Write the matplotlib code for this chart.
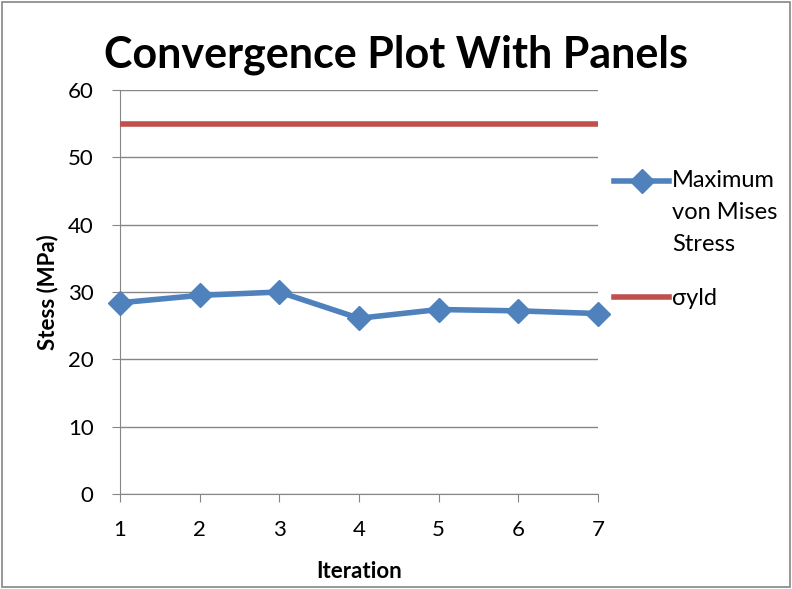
import matplotlib
matplotlib.use("Agg")
import matplotlib.pyplot as plt
from matplotlib.patches import Rectangle
from matplotlib.legend_handler import HandlerLine2D

plt.rcParams['font.family'] = ['Lato', 'DejaVu Sans']

iterations = [1, 2, 3, 4, 5, 6, 7]
max_von_mises = [28.4, 29.5, 30.0, 26.1, 27.4, 27.2, 26.8]
sigma_yld = [55, 55, 55, 55, 55, 55, 55]

blue = '#4f81bd'
red = '#c0504d'
grid_gray = '#868686'


class FirstLineHandler(HandlerLine2D):
    # put the legend key level with the first line of a multi-line label
    def __init__(self, shift, **kw):
        super().__init__(**kw)
        self.shift = shift

    def create_artists(self, legend, orig_handle, xdescent, ydescent,
                       width, height, fontsize, trans):
        return super().create_artists(legend, orig_handle, xdescent,
                                      ydescent - 2 * self.shift, width, height,
                                      fontsize, trans)


fig = plt.figure(figsize=(7.92, 5.89), dpi=100)
ax = fig.add_axes([0.1515, 0.1613, 0.6035, 0.6859])

vm_line, = ax.plot(iterations, max_von_mises, color=blue, lw=4, marker='D', ms=12,
                   label='Maximum\nvon Mises\nStress', zorder=3, clip_on=False)
ax.plot(iterations, sigma_yld, color=red, lw=4, label='σyld', zorder=3)

ax.set_xlim(1, 7)
ax.set_ylim(0, 60)
ax.set_xticks(iterations)
ax.set_yticks(range(0, 61, 10))
ax.yaxis.grid(True, color=grid_gray, lw=1)
ax.set_axisbelow(True)
for side in ['top', 'right']:
    ax.spines[side].set_visible(False)
for side in ['left', 'bottom']:
    ax.spines[side].set_color(grid_gray)
ax.tick_params(axis='both', colors=grid_gray, labelcolor='black',
               labelsize=16, length=6, direction='out')
ax.tick_params(axis='x', pad=13)
ax.tick_params(axis='y', pad=13)

ax.set_xlabel('Iteration', fontsize=16, fontweight='bold', labelpad=15)
ax.set_ylabel('Stess (MPa)', fontsize=16, fontweight='bold', labelpad=7)

fig.text(0.5, 0.886, 'Convergence Plot With Panels', ha='center', va='baseline',
         fontsize=31, fontweight='bold')

leg = ax.legend(loc='upper left', bbox_to_anchor=(1.0, 0.843), frameon=False,
                fontsize=17, handlelength=2.3, handletextpad=0.15,
                labelspacing=1.4, borderaxespad=0.3,
                handler_map={vm_line: FirstLineHandler(shift=22.5)})
for t in leg.get_texts():
    t.set_linespacing(1.65)

fig.patches.append(Rectangle((0.002, 0.003), 0.996, 0.994, transform=fig.transFigure,
                             fill=False, edgecolor=grid_gray, lw=1.2))

fig.savefig('out.png', dpi=100)
